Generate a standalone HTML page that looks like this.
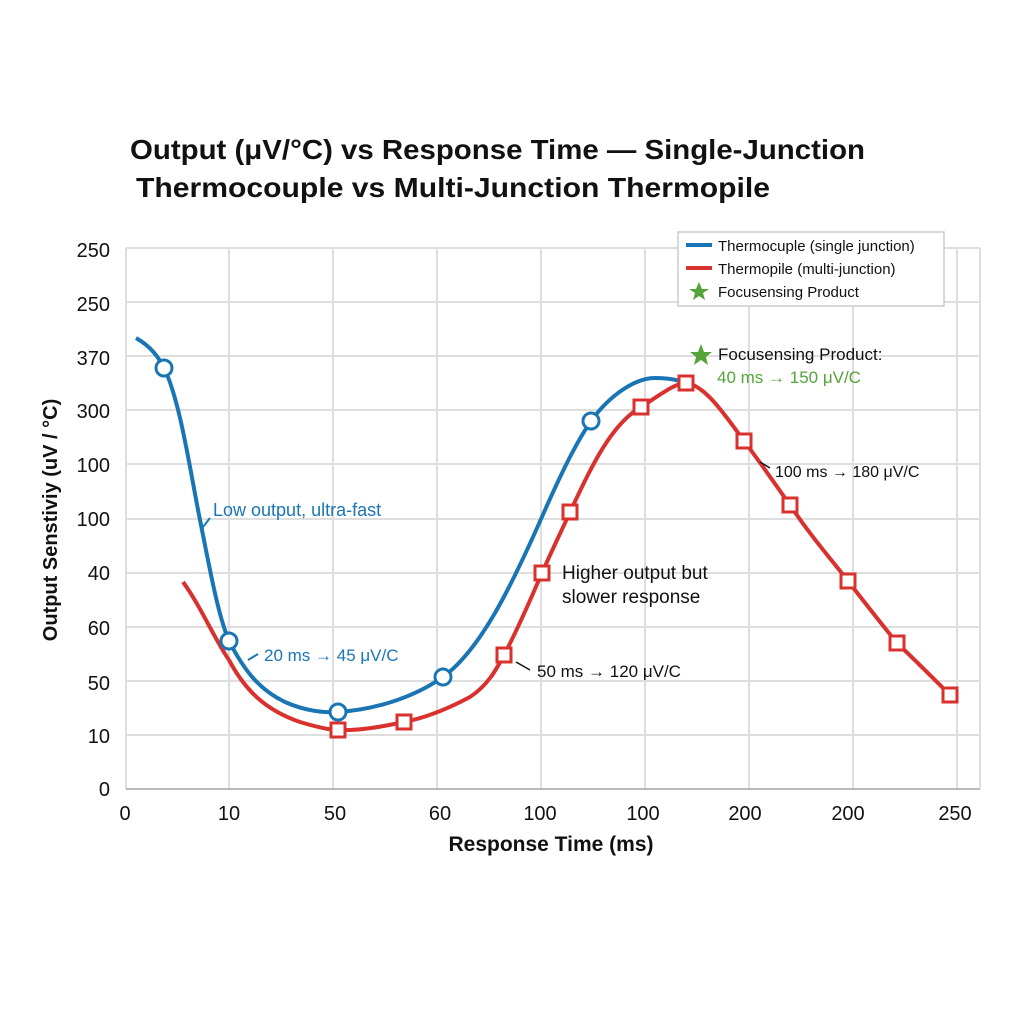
<!DOCTYPE html>
<html><head><meta charset="utf-8"><style>
html,body{margin:0;padding:0;background:#fff;}
svg{display:block;font-family:"Liberation Sans",Arial,sans-serif;}
</style></head><body>
<svg width="1024" height="1024" viewBox="0 0 1024 1024" xmlns="http://www.w3.org/2000/svg">
<rect width="1024" height="1024" fill="#fff"/>
<text x="130" y="159" font-size="28" font-weight="bold" fill="#111" textLength="735" lengthAdjust="spacingAndGlyphs">Output (μV/°C) vs Response Time — Single-Junction</text>
<text x="136" y="197" font-size="28" font-weight="bold" fill="#111" textLength="634" lengthAdjust="spacingAndGlyphs">Thermocouple vs Multi-Junction Thermopile</text>
<g stroke="#dedede" stroke-width="2">
<line x1="126" y1="248" x2="980" y2="248"/><line x1="126" y1="302" x2="980" y2="302"/>
<line x1="126" y1="356" x2="980" y2="356"/><line x1="126" y1="410" x2="980" y2="410"/>
<line x1="126" y1="464" x2="980" y2="464"/><line x1="126" y1="519" x2="980" y2="519"/>
<line x1="126" y1="573" x2="980" y2="573"/><line x1="126" y1="627" x2="980" y2="627"/>
<line x1="126" y1="681" x2="980" y2="681"/><line x1="126" y1="735" x2="980" y2="735"/>
<line x1="126" y1="248" x2="126" y2="789"/><line x1="229" y1="248" x2="229" y2="789"/>
<line x1="333" y1="248" x2="333" y2="789"/><line x1="437" y1="248" x2="437" y2="789"/>
<line x1="541" y1="248" x2="541" y2="789"/><line x1="645" y1="248" x2="645" y2="789"/>
<line x1="749" y1="248" x2="749" y2="789"/><line x1="853" y1="248" x2="853" y2="789"/>
<line x1="957" y1="248" x2="957" y2="789"/><line x1="980" y1="248" x2="980" y2="789"/>
</g>
<line x1="126" y1="789" x2="980" y2="789" stroke="#bbb" stroke-width="2"/>
<g font-size="20" fill="#111" text-anchor="end">
<text x="110" y="257">250</text><text x="110" y="311">250</text><text x="110" y="365">370</text>
<text x="110" y="418">300</text><text x="110" y="472">100</text><text x="110" y="526">100</text>
<text x="110" y="580">40</text><text x="110" y="635">60</text><text x="110" y="690">50</text>
<text x="110" y="743">10</text><text x="110" y="796">0</text>
</g>
<g font-size="20" fill="#111" text-anchor="middle">
<text x="125" y="820">0</text><text x="229" y="820">10</text><text x="335" y="820">50</text>
<text x="440" y="820">60</text><text x="540" y="820">100</text><text x="643" y="820">100</text>
<text x="745" y="820">200</text><text x="848" y="820">200</text><text x="955" y="820">250</text>
</g>
<text x="551" y="851" font-size="21" font-weight="bold" text-anchor="middle" fill="#111">Response Time (ms)</text>
<text transform="translate(57,520) rotate(-90)" font-size="20" font-weight="bold" text-anchor="middle" fill="#111">Output Senstiviy (uV / °C)</text>
<path d="M136,338 C150,346 158,356 164,368 C180,400 190,470 200,520 C210,570 218,615 229,641 C245,672 260,690 285,702 C305,711 325,713 338,712 C370,710 410,700 443,677 C480,650 510,590 545,510 C565,465 578,440 591,421 C610,395 635,378 655,378 C672,378 682,381 686,384" fill="none" stroke="#1a75b5" stroke-width="4"/>
<path d="M183,582 C200,605 215,640 229,660 C245,690 265,710 300,722 C320,728 330,730 338,730 C360,731 385,726 404,722 C430,717 455,705 470,697 C488,685 496,670 504,655 C520,625 530,600 542,573 C552,550 562,530 570,512 C590,470 610,425 641,407 C660,395 675,383 686,383 C705,385 725,415 744,441 C760,462 775,484 790,505 C810,535 830,558 848,581 C865,603 880,622 897,643 C915,660 935,680 950,695" fill="none" stroke="#d9312e" stroke-width="4"/>
<g fill="#fff" stroke="#1a75b5" stroke-width="3">
<circle cx="164" cy="368" r="8"/><circle cx="229" cy="641" r="8"/><circle cx="338" cy="712" r="8"/>
<circle cx="443" cy="677" r="8"/><circle cx="591" cy="421" r="8"/>
</g>
<g fill="#fff" stroke="#d9312e" stroke-width="3">
<rect x="331" y="723" width="14" height="14"/><rect x="397" y="715" width="14" height="14"/>
<rect x="497" y="648" width="14" height="14"/><rect x="535" y="566" width="14" height="14"/>
<rect x="563" y="505" width="14" height="14"/><rect x="634" y="400" width="14" height="14"/>
<rect x="679" y="376" width="14" height="14"/><rect x="737" y="434" width="14" height="14"/>
<rect x="783" y="498" width="14" height="14"/><rect x="841" y="574" width="14" height="14"/>
<rect x="890" y="636" width="14" height="14"/><rect x="943" y="688" width="14" height="14"/>
</g>
<line x1="203" y1="527" x2="210" y2="518" stroke="#1a75b5" stroke-width="2"/>
<text x="213" y="516" font-size="18" fill="#1a75b5">Low output, ultra-fast</text>
<line x1="248" y1="660" x2="258" y2="654" stroke="#1a75b5" stroke-width="2"/>
<text x="264" y="661" font-size="17" fill="#1a75b5">20 ms → 45 μV/C</text>
<text x="562" y="579" font-size="19" fill="#111">Higher output but</text>
<text x="562" y="603" font-size="19" fill="#111">slower response</text>
<line x1="516" y1="662" x2="530" y2="670" stroke="#111" stroke-width="1.5"/>
<text x="537" y="677" font-size="17" fill="#111">50 ms → 120 μV/C</text>
<line x1="760" y1="462" x2="770" y2="468" stroke="#111" stroke-width="1.5"/>
<text x="775" y="477" font-size="16" fill="#111">100 ms → 180 μV/C</text>
<polygon points="701,344 704,352 712,352 706,357 708,365 701,360 694,365 696,357 690,352 698,352" fill="#55a43a"/>
<text x="718" y="360" font-size="17" fill="#111">Focusensing Product:</text>
<text x="717" y="383" font-size="17" fill="#55a43a">40 ms → 150 μV/C</text>
<rect x="678" y="232" width="266" height="74" fill="#fff" stroke="#ccc" stroke-width="1.5"/>
<line x1="686" y1="245" x2="712" y2="245" stroke="#1a75b5" stroke-width="4"/>
<text x="718" y="251" font-size="15" fill="#111">Thermocuple (single junction)</text>
<line x1="686" y1="268" x2="712" y2="268" stroke="#d9312e" stroke-width="4"/>
<text x="718" y="274" font-size="15" fill="#111">Thermopile (multi-junction)</text>
<polygon points="699,282 702,289 709,289 703,293 705,300 699,296 693,300 695,293 689,289 696,289" fill="#55a43a"/>
<text x="718" y="297" font-size="15" fill="#111">Focusensing Product</text>
</svg>
</body></html>
